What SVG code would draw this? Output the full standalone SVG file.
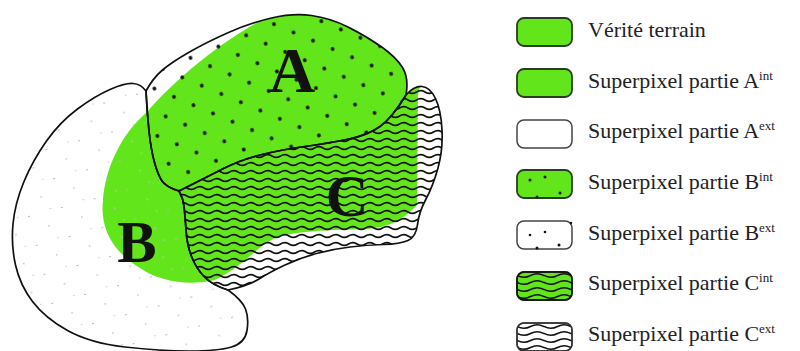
<svg xmlns="http://www.w3.org/2000/svg" width="800" height="351" viewBox="0 0 800 351">
<style>
.out{fill:none;stroke:#111;stroke-width:1.7;stroke-linejoin:round}
.lbl{font-family:"Liberation Serif","Times New Roman",serif;font-weight:bold;fill:#111}
.leg{font-family:"Liberation Serif","Times New Roman",serif;font-size:22px;fill:#222}
.sup{font-size:13px}
.boxg{fill:#63E51C;stroke:#2b3d1f;stroke-width:1.8}
.boxw{fill:#fff;stroke:#444;stroke-width:1.5}
.dot{fill:#111}
</style>
<defs>
<path id="pA" d="M146,91 Q147,112 149,131 Q151,150 154.5,162.5 Q158,175 162,181 Q166,187 179,191 Q205,178 222.5,169 Q240,160 260,155 Q280,150 305,146.5 Q330,143 349,139 Q368,135 380,126.5 Q392,118 406,95 Q409,78 402.5,67.5 Q396,57 381,46.5 Q366,36 348,27 Q330,18 311.5,15.5 Q293,13 271.5,18 Q250,23 228.5,32.5 Q207,42 189.5,52 Q172,62 162.5,70 Q153,78 146,91 Z"/>
<path id="pC" d="M179,191 Q205,178 222.5,169 Q240,160 260,155 Q280,150 305,146.5 Q330,143 349,139 Q368,135 380,126.5 Q392,118 406,95 Q414,86 422,86.5 Q430,87 435.5,98.5 Q441,110 442,130 Q443,150 438,168 Q433,186 426,199 Q419,212 417.5,224.5 Q416,237 408,240.5 Q400,244 383.5,244.5 Q367,245 350,247 Q333,249 316.5,253.5 Q300,258 285,265 Q270,272 259,279 Q248,286 228,290 Q212,285 204,276.5 Q196,268 191.5,256.5 Q187,245 186,230 Q185,215 184,206.5 Q183,198 179,191 Z"/>
<path id="pB" d="M146,91 Q141,84 133,83.5 Q125,83 110,89.5 Q95,96 77.5,109 Q60,122 46.5,141 Q33,160 24,181.5 Q15,203 13,224 Q11,245 15.5,265 Q20,285 32.5,301.5 Q45,318 67.5,330.5 Q90,343 125,347 Q160,351 189,351 Q218,351 231.5,347 Q245,343 247,330.5 Q249,318 245.5,309 Q242,300 228,290 Q212,285 204,276.5 Q196,268 191.5,256.5 Q187,245 186,230 Q185,215 184,206.5 Q183,198 179,191 Q166,187 162,181 Q158,175 154.5,162.5 Q151,150 149,131 Q147,112 146,91 Z"/>
<clipPath id="cAll"><use href="#pA"/><use href="#pB"/><use href="#pC"/></clipPath>
<clipPath id="cA"><use href="#pA"/></clipPath>
<clipPath id="cB"><use href="#pB"/></clipPath>
<clipPath id="cC"><use href="#pC"/></clipPath>
<pattern id="dots" width="30" height="30" patternUnits="userSpaceOnUse" patternTransform="rotate(-22)">
<circle cx="5" cy="5" r="1.9" fill="#111"/><circle cx="20" cy="20" r="1.9" fill="#111"/>
</pattern>
<pattern id="fdots" width="34" height="30" patternUnits="userSpaceOnUse" patternTransform="rotate(-15)">
<rect x="5" y="6" width="2" height="1" fill="#b8b8b8"/><rect x="22" y="20" width="1.5" height="1.5" fill="#c4c4c4"/><rect x="28" y="4" width="1.5" height="1" fill="#c8c8c8"/>
</pattern>
<pattern id="waves" width="17" height="8" patternUnits="userSpaceOnUse">
<path d="M-8.5,4 Q-4.25,1.2 0,4 T8.5,4 T17,4 T25.5,4" fill="none" stroke="#111" stroke-width="1.6"/>
</pattern>
<pattern id="lwaves" width="27" height="7" patternUnits="userSpaceOnUse" patternTransform="translate(517,272)">
<path d="M-13.5,3.5 Q-6.75,0 0,3.5 T13.5,3.5 T27,3.5 T40.5,3.5" fill="none" stroke="#111" stroke-width="1.5"/>
</pattern>
<pattern id="lwaves2" width="27" height="7" patternUnits="userSpaceOnUse" patternTransform="translate(517,323)">
<path d="M-13.5,3.5 Q-6.75,0 0,3.5 T13.5,3.5 T27,3.5 T40.5,3.5" fill="none" stroke="#111" stroke-width="1.5"/>
</pattern>
</defs>
<rect width="800" height="351" fill="#fff"/>
<g id="regions">
<g id="ground-truth" clip-path="url(#cAll)">
<path d="M147,112 C170,85 215,45 262,20 L300,0 L440,0 L418,95 L417,205 C405,218 390,228 365,229 C330,230 295,231 275,238 C255,248 245,265 215,280 C190,286 160,282 140,268 C110,250 100,225 103,200 C105,170 120,135 147,112 Z" fill="#63E51C"/>
</g>
<g id="region-B">
<rect x="0" y="70" width="260" height="281" fill="url(#fdots)" clip-path="url(#cB)"/>
<use href="#pB" class="out"/>
</g>
<g id="region-A">
<rect x="140" y="0" width="280" height="200" fill="url(#dots)" clip-path="url(#cA)"/>
<use href="#pA" class="out"/>
</g>
<g id="region-C">
<rect x="170" y="80" width="280" height="220" fill="url(#waves)" clip-path="url(#cC)"/>
<use href="#pC" class="out"/>
</g>
<text class="lbl" x="292" y="92" font-size="64" text-anchor="middle">A</text>
<text class="lbl" x="137" y="262" font-size="59" text-anchor="middle">B</text>
<text class="lbl" x="347" y="216" font-size="59" text-anchor="middle">C</text>
</g>
<g id="legend">
<g id="leg-gt"><rect class="boxg" x="517" y="18" width="55" height="28" rx="7"/><text class="leg" x="588" y="37">Vérité terrain</text></g>
<g id="leg-aint"><rect class="boxg" x="517" y="69" width="55" height="28" rx="7"/><text class="leg" x="588" y="88">Superpixel partie A<tspan class="sup" dy="-8">int</tspan></text></g>
<g id="leg-aext"><rect class="boxw" x="517" y="120" width="55" height="28" rx="7"/><text class="leg" x="588" y="138">Superpixel partie A<tspan class="sup" dy="-8">ext</tspan></text></g>
<g id="leg-bint"><rect class="boxg" x="517" y="170" width="55" height="28" rx="7"/>
<circle class="dot" cx="530" cy="180" r="1.5"/><circle class="dot" cx="545" cy="177" r="1.5"/><circle class="dot" cx="537" cy="197" r="1.5"/><circle class="dot" cx="560" cy="193" r="1.5"/>
<text class="leg" x="588" y="189">Superpixel partie B<tspan class="sup" dy="-8">int</tspan></text></g>
<g id="leg-bext"><rect class="boxw" x="517" y="221" width="55" height="28" rx="7"/>
<circle class="dot" cx="530" cy="235" r="1.3"/><circle class="dot" cx="545" cy="232" r="1.3"/><circle class="dot" cx="537" cy="248" r="1.5"/><circle class="dot" cx="559" cy="245" r="1.5"/><circle class="dot" cx="571" cy="223" r="1.2"/>
<text class="leg" x="588" y="240">Superpixel partie B<tspan class="sup" dy="-8">ext</tspan></text></g>
<g id="leg-cint"><rect class="boxg" x="517" y="272" width="55" height="28" rx="7"/><rect x="517" y="272" width="55" height="28" rx="7" fill="url(#lwaves)" stroke="#111" stroke-width="1.5"/>
<text class="leg" x="588" y="290">Superpixel partie C<tspan class="sup" dy="-8">int</tspan></text></g>
<g id="leg-cext"><rect class="boxw" x="517" y="323" width="55" height="28" rx="7"/><rect x="517" y="323" width="55" height="28" rx="7" fill="url(#lwaves2)" stroke="#333" stroke-width="1.5"/>
<text class="leg" x="588" y="341">Superpixel partie C<tspan class="sup" dy="-8">ext</tspan></text></g>
</g>
</svg>
